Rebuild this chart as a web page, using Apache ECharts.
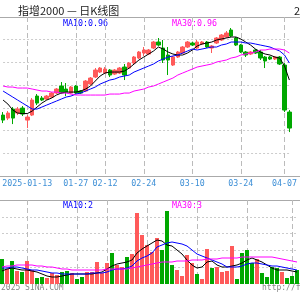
<!DOCTYPE html>
<html>
<head>
<meta charset="utf-8">
<script src="https://cdn.jsdelivr.net/npm/echarts@6/dist/echarts.min.js"></script>
<style>
html, body { margin: 0; padding: 0; background: #fff; }
#chart { width: 300px; height: 300px; }
</style>
</head>
<body>
<div id="chart"></div>
<script>
// trading days shown
var dates = [
  '2025-01-06','2025-01-07','2025-01-08','2025-01-09','2025-01-10','2025-01-13','2025-01-14','2025-01-15',
  '2025-01-16','2025-01-17','2025-01-20','2025-01-21','2025-01-22','2025-01-23','2025-01-24','2025-01-27',
  '2025-02-05','2025-02-06','2025-02-07','2025-02-10','2025-02-11','2025-02-12','2025-02-13','2025-02-14',
  '2025-02-17','2025-02-18','2025-02-19','2025-02-20','2025-02-21','2025-02-24','2025-02-25','2025-02-26',
  '2025-02-27','2025-02-28','2025-03-03','2025-03-04','2025-03-05','2025-03-06','2025-03-07','2025-03-10',
  '2025-03-11','2025-03-12','2025-03-13','2025-03-14','2025-03-17','2025-03-18','2025-03-19','2025-03-20',
  '2025-03-21','2025-03-24','2025-03-25','2025-03-26','2025-03-27','2025-03-28','2025-03-31','2025-04-01',
  '2025-04-02','2025-04-03','2025-04-07','2025-04-08'
];
var labelDates = ['2025-01-13','2025-01-27','2025-02-12','2025-02-24','2025-03-10','2025-03-24','2025-04-07'];

var opens = [1.0143,1.0113,1.0203,1.0163,1.0213,1.0093,1.0143,1.0333,1.0313,1.0303,1.0323,1.0363,1.0433,1.0403,1.0363,1.0433,
  1.0383,1.0383,1.0453,1.0523,1.0573,1.0563,1.0593,1.0553,1.0563,1.0623,1.0613,1.0663,1.0713,1.0763,1.0753,1.0813,
  1.0873,1.0813,1.0743,1.0643,1.0723,1.0763,1.0823,1.0863,1.0813,1.0853,1.0873,1.0813,1.0863,1.0893,1.0923,1.0993,
  1.0913,1.0843,1.0773,1.0753,1.0793,1.0773,1.0723,1.0723,1.0703,1.0723,1.0643,1.0173];
var closes = [1.0093,1.0163,1.0113,1.0203,1.0153,1.0123,1.0293,1.0263,1.0293,1.0333,1.0363,1.0403,1.0363,1.0373,1.0423,1.0363,
  1.0363,1.0483,1.0513,1.0593,1.0613,1.0603,1.0543,1.0593,1.0613,1.0543,1.0663,1.0723,1.0773,1.0793,1.0793,1.0873,
  1.0843,1.0693,1.0693,1.0723,1.0773,1.0823,1.0873,1.0843,1.0873,1.0873,1.0823,1.0833,1.0913,1.0943,1.0963,1.0933,
  1.0843,1.0773,1.0743,1.0773,1.0763,1.0713,1.0683,1.0703,1.0723,1.0653,1.0193,1.0013];
var lows = [1.0063,1.0093,1.0053,1.0143,1.0133,1.0013,1.0133,1.0243,1.0283,1.0293,1.0313,1.0353,1.0353,1.0333,1.0353,1.0353,
  1.0353,1.0373,1.0443,1.0513,1.0563,1.0553,1.0523,1.0543,1.0553,1.0493,1.0603,1.0653,1.0703,1.0733,1.0743,1.0803,
  1.0833,1.0663,1.0543,1.0633,1.0713,1.0753,1.0813,1.0833,1.0803,1.0843,1.0813,1.0763,1.0853,1.0883,1.0913,1.0923,
  1.0833,1.0763,1.0723,1.0743,1.0753,1.0693,1.0613,1.0693,1.0693,1.0643,1.0173,0.9973];
var highs = [1.0173,1.0183,1.0223,1.0223,1.0233,1.0143,1.0313,1.0353,1.0333,1.0343,1.0373,1.0413,1.0473,1.0463,1.0433,1.0443,
  1.0393,1.0493,1.0523,1.0613,1.0623,1.0623,1.0603,1.0603,1.0623,1.0653,1.0673,1.0733,1.0783,1.0823,1.0803,1.0883,
  1.0913,1.0893,1.0823,1.0733,1.0783,1.0833,1.0883,1.0873,1.0893,1.0883,1.0883,1.0843,1.0923,1.0953,1.0983,1.1013,
  1.0923,1.0853,1.0783,1.0783,1.0803,1.0793,1.0733,1.0733,1.0733,1.0733,1.0663,1.0193];

var ma5 = [1.0293,1.0253,1.0193,1.0163,1.0158,1.0158,1.0183,1.0223,1.0263,1.0293,1.0313,1.0343,1.0363,1.0373,1.0373,1.0373,
  1.0383,1.0403,1.0433,1.0483,1.0533,1.0563,1.0573,1.0573,1.0573,1.0583,1.0613,1.0653,1.0693,1.0723,1.0753,1.0783,
  1.0823,1.0803,1.0773,1.0753,1.0743,1.0743,1.0763,1.0793,1.0833,1.0853,1.0863,1.0873,1.0893,1.0903,1.0913,1.0923,
  1.0923,1.0903,1.0873,1.0843,1.0803,1.0773,1.0753,1.0743,1.0723,1.0713,1.0633,1.0493];
var ma10 = [1.0383,1.0353,1.0323,1.0293,1.0263,1.0233,1.0203,1.0203,1.0223,1.0243,1.0263,1.0283,1.0303,1.0323,1.0333,1.0353,
  1.0363,1.0383,1.0403,1.0423,1.0453,1.0473,1.0493,1.0503,1.0523,1.0533,1.0543,1.0573,1.0593,1.0613,1.0633,1.0653,
  1.0683,1.0703,1.0723,1.0733,1.0743,1.0763,1.0783,1.0803,1.0793,1.0803,1.0813,1.0823,1.0823,1.0843,1.0853,1.0873,
  1.0873,1.0873,1.0863,1.0863,1.0853,1.0843,1.0833,1.0823,1.0803,1.0783,1.0743,1.0663];
var ma30 = [1.0433,1.0423,1.0423,1.0413,1.0413,1.0413,1.0403,1.0393,1.0383,1.0383,1.0373,1.0373,1.0363,1.0363,1.0353,1.0343,
  1.0343,1.0343,1.0343,1.0343,1.0343,1.0343,1.0353,1.0353,1.0353,1.0363,1.0363,1.0383,1.0393,1.0403,1.0423,1.0433,
  1.0453,1.0473,1.0493,1.0513,1.0543,1.0563,1.0583,1.0603,1.0623,1.0633,1.0643,1.0653,1.0673,1.0683,1.0693,1.0713,
  1.0723,1.0743,1.0753,1.0763,1.0773,1.0793,1.0793,1.0803,1.0803,1.0803,1.0793,1.0763];

var volumes = [2.5,1.5,2.3,1.3,1.2,2.3,1.4,0.6,0.7,0.6,1.1,0.9,1.2,1.3,1.1,0.5,0.7,1.2,1.2,2.2,1.1,2.1,3.1,1.9,1.7,2.7,3.0,7.1,4.9,3.9,
  3.2,4.6,3.4,7.3,1.9,1.4,0.8,2.9,2.1,1.0,0.5,3.5,1.6,1.7,1.2,1.3,3.8,0.5,3.1,3.4,2.1,2.5,1.1,0.7,1.7,1.6,1.2,0.6,0.8,1.4];
var volMa5 = [1.3,1.5,1.6,1.5,1.4,1.4,1.3,1.2,1.0,0.8,0.7,0.7,0.8,0.9,1.0,1.0,1.0,1.0,1.0,1.1,1.2,1.5,1.8,2.0,2.1,2.2,2.4,3.1,3.5,3.8,
  4.1,4.4,4.3,3.9,3.8,3.4,3.0,2.4,1.9,1.6,1.7,2.2,2.3,1.9,1.7,1.7,1.8,1.9,2.1,2.4,2.6,2.4,2.2,1.9,1.6,1.4,1.4,1.4,1.3,1.2];
var volMa10 = [1.6,1.6,1.7,1.7,1.6,1.5,1.4,1.4,1.3,1.2,1.1,1.1,1.0,1.0,1.0,1.0,1.0,1.0,1.1,1.1,1.1,1.2,1.4,1.5,1.5,1.6,1.8,2.3,2.6,2.8,
  3.1,3.7,3.9,4.1,4.2,4.1,4.0,3.8,3.4,3.0,2.8,2.6,2.4,2.2,2.0,1.7,1.7,1.7,1.8,2.0,2.1,2.1,2.0,1.9,1.8,1.8,1.7,1.6,1.5,1.4];
var volMa30 = [1.7,1.8,1.8,1.9,1.9,1.9,1.9,1.8,1.8,1.7,1.7,1.6,1.5,1.5,1.4,1.4,1.4,1.4,1.4,1.4,1.4,1.5,1.5,1.5,1.5,1.5,1.6,1.7,1.8,1.9,
  2.0,2.1,2.2,2.2,2.2,2.3,2.3,2.3,2.4,2.4,2.4,2.5,2.5,2.5,2.6,2.6,2.6,2.6,2.7,2.7,2.7,2.7,2.7,2.7,2.7,2.6,2.5,2.4,2.3,2.2];

var red = '#ff5a5a', green = '#00a800';
var mono = '"DejaVu Sans Mono", monospace';

var candles = dates.map(function (d, i) {
  return [opens[i], closes[i], lows[i], highs[i]];
});

var isLabel = function (index, value) {
  return labelDates.indexOf(value) >= 0;
};

var vGrid = { show: true, interval: isLabel, lineStyle: { color: '#bbb', type: [5, 3], width: 1 } };
var hGrid = { show: true, showMinLine: false, showMaxLine: false, lineStyle: { color: '#ccc', type: [2, 2], width: 1 } };

function maLine(name, data, color, xi, yi) {
  return {
    name: name, type: 'line', data: data, xAxisIndex: xi, yAxisIndex: yi,
    showSymbol: false, symbol: 'none', clip: false, silent: true,
    lineStyle: { color: color, width: 1 }
  };
}

function txt(x, y, text, font, color) {
  return { type: 'text', x: x, y: y, silent: true,
    style: { text: text, font: font, fill: color, verticalAlign: 'middle' } };
}

function hline(y) {
  return { type: 'line', silent: true, shape: { x1: 0, y1: y, x2: 300, y2: y },
    style: { stroke: '#aaa', lineWidth: 1 } };
}

var chart = echarts.init(document.getElementById('chart'));
var option = {
  animation: false,
  backgroundColor: '#fff',
  grid: [
    { left: 2, right: 3, top: 17, height: 159 },
    { left: 2, right: 3, top: 200, height: 84 }
  ],
  xAxis: [
    {
      type: 'category', gridIndex: 0, data: dates, boundaryGap: false,
      axisLine: { show: false }, axisTick: { show: false },
      axisLabel: {
        interval: isLabel, margin: 4, color: '#3d8fd6', fontFamily: mono, fontSize: 8.3,
        formatter: function (v) { return v === labelDates[0] ? v : v.slice(5); }
      },
      splitLine: vGrid
    },
    {
      type: 'category', gridIndex: 1, data: dates, boundaryGap: false,
      axisLine: { show: false }, axisTick: { show: false }, axisLabel: { show: false },
      splitLine: vGrid
    }
  ],
  yAxis: [
    {
      type: 'value', gridIndex: 0, min: 0.9534, max: 1.1123, interval: 0.0227,
      axisLine: { show: false }, axisTick: { show: false }, axisLabel: { show: false },
      splitLine: hGrid
    },
    {
      type: 'value', gridIndex: 1, min: 0, max: 8.4, interval: 1.68,
      axisLine: { show: false }, axisTick: { show: false }, axisLabel: { show: false },
      splitLine: hGrid
    }
  ],
  series: [
    {
      name: 'K', type: 'candlestick', data: candles, xAxisIndex: 0, yAxisIndex: 0,
      barWidth: 4, clip: false, silent: true,
      itemStyle: { color: red, color0: green, borderColor: red, borderColor0: green, borderWidth: 1 }
    },
    maLine('MA5', ma5, '#000', 0, 0),
    maLine('MA10', ma10, '#0000ff', 0, 0),
    maLine('MA30', ma30, '#ff00ff', 0, 0),
    {
      name: 'VOL', type: 'bar', data: volumes, xAxisIndex: 1, yAxisIndex: 1,
      barWidth: 4, clip: false, silent: true,
      itemStyle: {
        color: function (p) { return closes[p.dataIndex] >= opens[p.dataIndex] ? red : green; }
      }
    },
    maLine('VMA5', volMa5, '#000', 1, 1),
    maLine('VMA10', volMa10, '#0000ff', 1, 1),
    maLine('VMA30', volMa30, '#ff00ff', 1, 1)
  ],
  graphic: [
    hline(17.5), hline(176.5), hline(200.5),
    txt(18, 10.5, '指增2000 — 日K线图', '11px "Noto Sans CJK SC"', '#222'),
    txt(294, 10.5, '2025-04-08', '11px "Noto Sans CJK SC"', '#222'),
    txt(63, 24, 'MA10:0.96', '8.3px ' + mono, '#0000ff'),
    txt(172, 24, 'MA30:0.96', '8.3px ' + mono, '#ff00ff'),
    txt(63, 206, 'MA10:2', '8.3px ' + mono, '#0000ff'),
    txt(172, 206, 'MA30:3', '8.3px ' + mono, '#ff00ff'),
    txt(1, 288, '2025 SINA.COM', '8px ' + mono, '#888'),
    txt(262, 288, 'http://finance.sina.com.cn', '8px ' + mono, '#888')
  ]
};
chart.setOption(option);
</script>
</body>
</html>
